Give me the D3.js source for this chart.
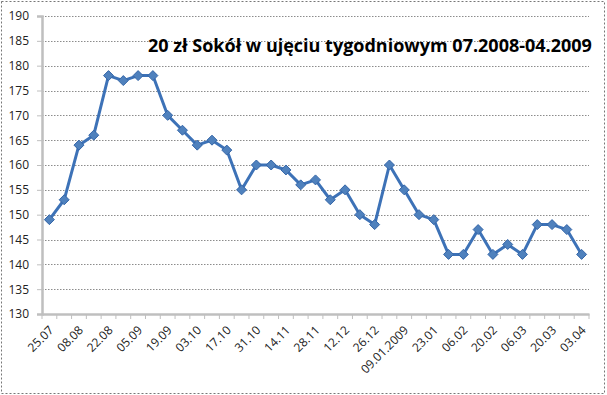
<!DOCTYPE html>
<html lang="pl">
<head>
<meta charset="UTF-8">
<title>20 zł Sokół</title>
<script src="https://d3js.org/d3.v7.min.js"></script>
<style>
    body { margin: 0; background: #fff; font-family: 'Open Sans', 'DejaVu Sans', sans-serif; }
    .grid line { stroke: #8c8c8c; stroke-dasharray: 1.5 1.5; }
    .axis text { font-size: 12px; fill: #222; font-family: 'Open Sans', sans-serif; }
</style>
</head>
<body>
<svg id="chart" width="607" height="395"></svg>
<script>
    // tygodnie (wszystkie punkty)
    const weeks = [
        "25.07", "01.08", "08.08", "15.08", "22.08", "29.08", "05.09", "12.09", "19.09", "26.09",
        "03.10", "10.10", "17.10", "24.10", "31.10", "07.11", "14.11", "21.11", "28.11", "05.12",
        "12.12", "19.12", "26.12", "02.01", "09.01.2009", "16.01", "23.01", "30.01", "06.02", "13.02",
        "20.02", "27.02", "06.03", "13.03", "20.03", "27.03", "03.04"
    ];
    const prices = [
        149, 153, 164, 166, 178, 177, 178, 178, 170, 167,
        164, 165, 163, 155, 160, 160, 159, 156, 157, 153,
        155, 150, 148, 160, 155, 150, 149, 142, 142, 147,
        142, 144, 142, 148, 148, 147, 142
    ];
    const yTicks = [130, 135, 140, 145, 150, 155, 160, 165, 170, 175, 180, 185, 190];
    const title = "20 zł Sokół w ujęciu tygodniowym 07.2008-04.2009";

    const svg = d3.select("#chart");
    const W = 607, H = 395;
    const plotL = 42, plotR = 589, plotT = 16, plotB = 314;

    // ramka
    svg.append("rect")
        .attr("x", 1.5).attr("y", 1.5).attr("width", W - 4).attr("height", H - 3)
        .attr("fill", "none").attr("stroke", "#777").attr("stroke-dasharray", "2 2");

    const x = d3.scaleBand().domain(weeks).range([plotL, plotR]);
    const y = d3.scaleLinear().domain([130, 190]).range([plotB, plotT]);

    // linie siatki
    svg.append("g").attr("class", "grid")
        .selectAll("line")
        .data(yTicks.filter(d => d > 130))
        .enter().append("line")
        .attr("x1", plotL).attr("x2", plotR)
        .attr("y1", d => Math.round(y(d)) + 0.5).attr("y2", d => Math.round(y(d)) + 0.5);

    // oś Y
    const yAxis = svg.append("g").attr("class", "axis")
        .attr("transform", `translate(${plotL},0)`)
        .call(d3.axisLeft(y).tickValues(yTicks).tickSize(5).tickPadding(8));
    yAxis.select(".domain").attr("stroke", "#bfbfbf").attr("stroke-width", 2.5);
    yAxis.selectAll(".tick line").attr("stroke", "#bfbfbf");

    // oś X
    const xAxis = svg.append("g").attr("class", "axis")
        .attr("transform", `translate(0,${plotB})`)
        .call(d3.axisBottom(x).tickSize(0).tickFormat((d, i) => i % 2 === 0 ? d : ""));
    xAxis.select(".domain").attr("stroke", "#bfbfbf").attr("stroke-width", 2.5);
    xAxis.selectAll(".tick text")
        .attr("text-anchor", "end")
        .attr("x", 0).attr("y", 0).attr("dy", 0)
        .attr("transform", "translate(5,17) rotate(-45)");
    // znaczniki między kategoriami
    svg.append("g").selectAll("line")
        .data(weeks.concat(["end"]))
        .enter().append("line")
        .attr("x1", (d, i) => plotL + i * x.step()).attr("x2", (d, i) => plotL + i * x.step())
        .attr("y1", plotB).attr("y2", plotB + 5)
        .attr("stroke", "#bfbfbf");

    // linia serii
    const line = d3.line()
        .x((d, i) => x(weeks[i]) + x.bandwidth() / 2)
        .y(d => y(d));
    svg.append("path")
        .datum(prices)
        .attr("d", line)
        .attr("fill", "none")
        .attr("stroke", "#3d72b7")
        .attr("stroke-width", 3)
        .attr("stroke-linejoin", "round");

    // znaczniki (romby)
    svg.append("g").selectAll("path")
        .data(prices)
        .enter().append("path")
        .attr("transform", (d, i) => `translate(${x(weeks[i]) + x.bandwidth() / 2},${y(d)})`)
        .attr("d", "M0,-5L5,0L0,5L-5,0Z")
        .attr("fill", "#4f81bd")
        .attr("stroke", "#3566a8")
        .attr("stroke-width", 1);

    // tytuł
    svg.append("text")
        .attr("x", 370).attr("y", 52)
        .attr("text-anchor", "middle")
        .style("font-family", "'Open Sans', sans-serif")
        .style("font-weight", "bold")
        .style("font-size", "18px")
        .text(title);
</script>
</body>
</html>
